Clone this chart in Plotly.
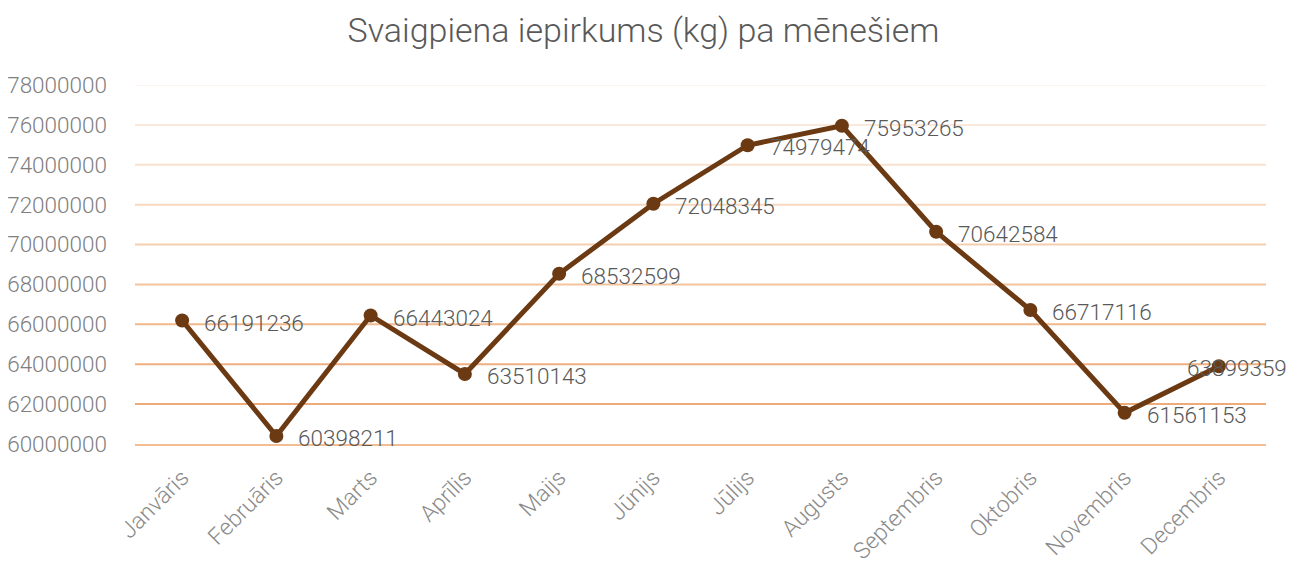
import plotly.graph_objects as go

months = ["Janvāris", "Februāris", "Marts", "Aprīlis", "Maijs", "Jūnijs",
          "Jūlijs", "Augusts", "Septembris", "Oktobris", "Novembris", "Decembris"]
values = [66191236, 60398211, 66443024, 63510143, 68532599, 72048345,
          74979474, 75953265, 70642584, 66717116, 61561153, 63899359]
y_ticks = [60000000, 62000000, 64000000, 66000000, 68000000, 70000000,
           72000000, 74000000, 76000000, 78000000]
grid_colors = ["#f2bd92", "#eeab7a", "#efae80", "#f1b88c", "#f3c39d",
               "#f5ceae", "#f7d8bf", "#f9e2cf", "#fbe9dc", "#fdf3ec"]

FONT = "Roboto, sans-serif"

fig = go.Figure()
fig.add_trace(go.Scatter(
    x=months, y=values, mode="lines+markers",
    line=dict(color="#6b3a13", width=5),
    marker=dict(color="#6b3a13", size=14),
    cliponaxis=False,
))

annotations = []
last = len(months) - 1
for i, (m, v) in enumerate(zip(months, values)):
    if i == last:
        anchor, xs = "right", 70
    else:
        anchor, xs = "left", 20
    annotations.append(dict(x=m, y=v, xref="x", yref="y", text=str(v), showarrow=False,
                            xanchor=anchor, yanchor="middle", xshift=xs, yshift=-2,
                            font=dict(family=FONT, size=22.5, color="#595959", weight=300)))

shapes = []
for t, c in zip(y_ticks[1:], grid_colors[1:]):
    shapes.append(dict(type="line", xref="paper", x0=0, x1=1, yref="y", y0=t, y1=t,
                       line=dict(color=c, width=2), layer="below"))

fig.update_layout(
    width=1300, height=563,
    paper_bgcolor="white", plot_bgcolor="white",
    margin=dict(l=127, r=42, t=77, b=127),
    title=dict(text="Svaigpiena iepirkums (kg) pa mēnešiem", x=(643.5 - 8) / 1300, xanchor="center",
               y=1 - 22 / 563, yanchor="middle",
               font=dict(family=FONT, size=34, color="#595959", weight=300)),
    showlegend=False,
    shapes=shapes,
    annotations=annotations,
    xaxis=dict(type="category", range=[-0.5, 11.5], showgrid=False, zeroline=False,
               showline=True, linecolor=grid_colors[0], linewidth=2, layer="below traces",
               ticks="", tickangle=-45, automargin=False,
               ticklabelstandoff=9,
               tickfont=dict(family=FONT, size=23, color="#8a8a8a", weight=300)),
    yaxis=dict(range=[60000000, 78000000], tickvals=y_ticks, ticktext=[str(t) for t in y_ticks],
               showgrid=False, zeroline=False, showline=False, ticks="", automargin=False,
               ticklabelstandoff=27,
               tickfont=dict(family=FONT, size=22.5, color="#7f7f7f", weight=300)),
)

fig.write_html("out.html")
